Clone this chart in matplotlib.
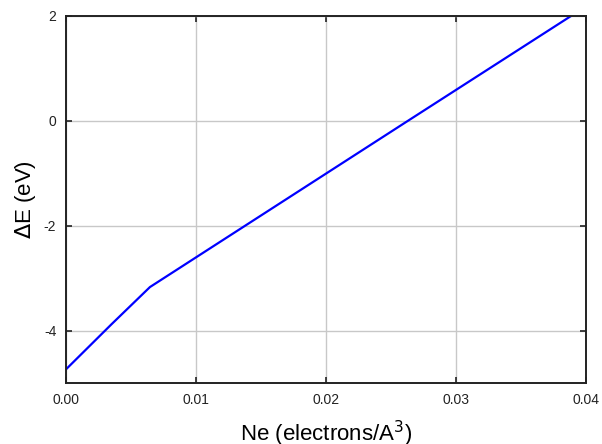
import matplotlib.pyplot as plt

# electron density (electrons/A^3) and energy shift (eV)
ne = [0.0, 0.0035, 0.00646, 0.0263, 0.03885]
delta_e = [-4.74, -3.88, -3.17, 0.0, 2.0]

xticks = [0.00, 0.01, 0.02, 0.03, 0.04]
xtick_labels = ["0.00", "0.01", "0.02", "0.03", "0.04"]
yticks = [-4, -2, 0, 2]

plt.rcParams['font.family'] = ['Liberation Sans', 'DejaVu Sans']
plt.rcParams['axes.unicode_minus'] = False

fig = plt.figure(figsize=(6.02, 4.44), dpi=100)
ax = fig.add_axes([0.1096, 0.1374, 0.8638, 0.8266])

ax.plot(ne, delta_e, color='#0000ff', linewidth=1.6)

ax.set_xlim(0, 0.04)
ax.set_ylim(-5, 2)
ax.set_xticks(xticks)
ax.set_xticklabels(xtick_labels)
ax.set_yticks(yticks)
ax.grid(True, color='#c8c8c8', linewidth=1.0)
ax.set_axisbelow(True)

ax.tick_params(direction='in', length=4, width=1.2, top=True, right=True,
               labelsize=10, colors='#222222', pad=7)
for s in ax.spines.values():
    s.set_linewidth(1.4)
    s.set_color('#222222')

ax.set_xlabel(r"Ne (electrons/A$^3$)", fontsize=16, labelpad=9)
ax.set_ylabel(r"$\Delta$E (eV)", fontsize=16, labelpad=4)

plt.savefig("out.png", dpi=100)
plt.close()
